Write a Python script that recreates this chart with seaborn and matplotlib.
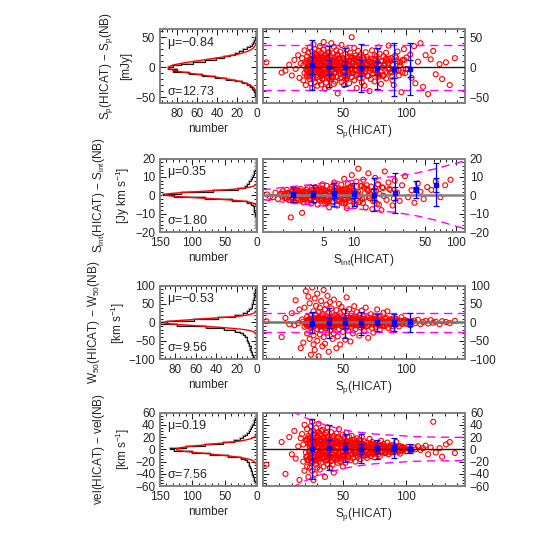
import numpy as np
import pandas as pd
import seaborn as sns
import matplotlib
matplotlib.use("Agg")
from matplotlib import pyplot as plt
from matplotlib.ticker import MultipleLocator, FixedLocator, LogLocator, NullFormatter, FormatStrFormatter

# ---------------- data ----------------
# peak flux of the matched sources (shared by rows 1, 3 and 4)
sp_hicat = [
    -10, 2, 5, 8, 10, 12, 13, 15, 16, 17,
    18, 19, 19, 20, 20, 21, 21, 22, 22, 22,
    23, 23, 23, 24, 24, 24, 24, 25, 25, 25,
    25, 26, 26, 26, 26, 26, 27, 27, 27, 27,
    27, 28, 28, 28, 28, 28, 29, 29, 29, 29,
    30, 30, 30, 30, 30, 31, 31, 31, 31, 31,
    32, 32, 32, 32, 33, 33, 33, 33, 33, 34,
    34, 34, 34, 35, 35, 35, 35, 36, 36, 36,
    36, 37, 37, 37, 37, 38, 38, 38, 38, 39,
    39, 39, 39, 40, 40, 40, 40, 41, 41, 41,
    41, 42, 42, 42, 43, 43, 43, 43, 44, 44,
    44, 45, 45, 45, 45, 46, 46, 46, 47, 47,
    47, 48, 48, 48, 49, 49, 49, 50, 50, 50,
    51, 51, 51, 52, 52, 52, 53, 53, 53, 54,
    54, 54, 55, 55, 55, 56, 56, 57, 57, 57,
    58, 58, 59, 59, 59, 60, 60, 61, 61, 61,
    62, 62, 63, 63, 64, 64, 64, 65, 65, 66,
    66, 67, 67, 68, 68, 69, 69, 70, 70, 71,
    71, 72, 72, 73, 73, 74, 74, 75, 75, 76,
    76, 77, 78, 78, 79, 79, 80, 80, 81, 82,
    82, 83, 84, 84, 85, 86, 86, 87, 88, 89,
    89, 90, 91, 92, 93, 94, 95, 96, 97, 98,
    99, 100, 101, 103, 104, 106, 107, 109, 111, 113,
    115, 117, 119, 121, 123, 126, 128, 131, 134, 138,
    # dense core of the cloud
    21.3, 22.8, 23.6, 24.9, 25.4, 26.7, 27.3, 28.6, 29.1, 30.4,
    31.7, 32.5, 33.8, 34.2, 35.6, 36.3, 37.9, 38.1, 39.5, 40.6,
    22.1, 23.9, 24.4, 26.2, 27.8, 29.7, 30.9, 32.3, 33.1, 35.0,
    36.8, 38.7, 40.2, 41.5, 42.9, 43.6, 44.8, 45.7, 46.4, 47.9,
    21.8, 25.1, 28.2, 31.1, 34.7, 37.4, 39.9, 42.3, 45.1, 48.6,
    49.5, 50.7, 51.9, 52.6, 53.8, 54.3, 55.9, 56.4, 57.7, 58.5,
    24.1, 27.5, 30.2, 33.6, 36.1, 39.2, 41.9, 44.2, 47.3, 50.1,
    59.8, 60.5, 61.7, 62.9, 63.4, 64.8, 65.3, 66.6, 67.9, 68.4,
    53.1, 55.2, 57.1, 59.4, 61.2, 63.9, 66.1, 69.3, 70.8, 71.6,
    72.9, 73.4, 74.7, 75.8, 76.5, 77.9, 78.4, 79.6, 80.9, 81.7,
    82.4, 83.8, 84.6, 85.9, 86.7, 87.5, 88.8, 89.4, 90.6, 91.8,
    26.9, 29.3, 32.8, 35.3, 38.5, 41.2, 43.1, 46.9, 49.1, 52.2,
    54.7, 56.9, 58.9, 62.1, 64.2, 67.2, 69.8, 72.3, 75.1, 78.9,
    92.7, 93.9, 95.2, 96.8, 98.3, 99.6, 83.1, 86.2, 88.1, 94.6,
    23.3, 28.9, 34.1, 40.9, 47.6, 51.4, 60.1, 65.8, 71.1, 77.2,
]
d_sp = [
    8, -9, -6, 4, -14, 12, -3, 20, -18, 6,
    15, -22, 3, 28, -10, 7, -30, 18, -5, 11,
    -16, 24, 1, -8, 33, -20, 9, -2, 14, -27,
    5, -12, 19, -35, 2, 26, -7, 12, -19, 38,
    -4, 10, -25, 16, -1, 30, -14, 6, 22, -9,
    13, -31, 4, 21, -17, 9, -3, 27, -11, 0,
    18, -6, 35, -23, 7, -15, 24, 2, -29, 11,
    -8, 16, -20, 5, 29, -13, 42, -2, 9, -36,
    3, 20, -10, 14, -26, 7, 31, -5, 17, -18,
    25, -1, -33, 12, 6, -21, 19, -7, 40, -12,
    8, -15, 23, -4, 13, -28, 2, 34, -9, 17,
    -24, 10, -3, 28, -16, 5, -44, 21, -6, 14,
    1, -19, 26, -11, 9, 37, -25, 4, -2, 15,
    -30, 12, 7, -14, 22, -8, 3, -20, 30, -5,
    18, -12, 10, -27, 5, 24, -3, 15, -17, 50,
    -9, 6, -22, 13, 32, -6, 19, -14, 2, -35,
    11, 27, -4, -18, 8, 21, -10, 3, -26, 16,
    -2, 12, -31, 25, -7, 6, 17, -15, 4, -40,
    9, -20, 14, 1, 28, -11, -5, 20, -24, 7,
    13, -8, 33, -16, 3, 22, -28, 10, -1, 18,
    -13, 6, 24, -19, 11, -4, 36, -9, 15, -22,
    4, -30, 19, -6, 26, -14, 8, -42, 12, 30,
    -10, 16, -3, 21, -18, 35, -27, 9, 40, -33,
    20, -45, 13, 27, -12, 5, -20, 8, -30, 15,
    -3, 7, -11, 14, 2, -16, 9, -6, 18, -1,
    11, -8, 4, -19, 13, -4, 6, 16, -12, 1,
    -7, 12, -15, 3, 9, -2, 17, -10, 5, -13,
    15, -5, 8, -18, 0, 10, -9, 19, -3, 6,
    -14, 4, 12, -6, 16, -11, 2, -17, 7, -1,
    13, -8, 3, 11, -15, 5, -4, 18, -10, 9,
    -12, 1, 15, -7, 6, -16, 10, -2, 14, -9,
    4, -13, 8, 17, -5, 2, -11, 12, -3, 7,
    -18, 11, -6, 3, 15, -8, 1, -14, 9, -2,
    6, -10, 13, -4, 18, -12, 5, -7, 10, -15,
    2, 14, -9, 7, -3, 11, -16, 4, -6, 16,
    -1, 8, -13, 19, -5, 12, -10, 3, -17, 6,
    9, -4, 15, -11, 1, -8, 13, -2, 7, -14,
    10, -6, 3, -9, 12, -3, 5, 14, -7, 2,
    -2, 9, -12, 5, 15, -6, 11, -16, 1, 8,
]
d_w50 = [
    3, -40, 12, -5, 25, -8, 60, -2, 35, -70,
    8, -55, 2, 40, -12, 85, -4, -30, 15, 6,
    -9, 70, 3, -45, 10, -3, 52, -88, 5, -15,
    18, -6, 95, 1, -25, 7, -60, 30, -2, 12,
    -35, 4, 65, -10, 2, -75, 20, -4, 45, 9,
    -18, 3, -50, 78, -7, 11, -2, 28, -92, 6,
    40, -11, 5, -33, 14, -1, 58, -20, 8, -65,
    2, 22, -8, 88, -40, 6, -3, 35, -15, 10,
    -58, 4, 48, -6, 17, -28, 1, 72, -12, 7,
    26, -5, -80, 13, 3, 55, -22, 9, -2, 38,
    -9, 16, -45, 4, 62, -14, 6, -30, 20, -3,
    11, -70, 2, 33, -8, 15, -38, 5, 50, -4,
    -18, 8, 25, -60, 3, -10, 42, 1, -26, 14,
    6, -3, 30, -47, 10, -7, 18, 68, -15, 2,
    -22, 12, -4, 36, 5, -52, 9, -1, 24, -12,
    7, -30, 15, -5, 44, 3, -18, 11, -2, 28,
    -8, 4, -36, 20, 1, 12, -14, 32, -6, 9,
    16, -3, -24, 7, 40, -10, 5, -42, 14, 2,
    -6, 22, 3, -15, 10, -28, 4, 18, -2, 8,
    -12, 35, 5, -4, 14, -20, 1, 9, -8, 26,
    3, -10, 12, -5, 30, 2, -16, 7, -3, 10,
    -18, 4, 8, -6, 2, -11, 5, 14, -3, 1,
    6, -4, 3, -8, 2, 5, -2, 7, -5, 1,
    4, -3, 6, -1, 2, -5, 3, 1, -2, 4,
    -2, 5, -7, 9, 1, -10, 6, -4, 11, 0,
    7, -5, 3, -12, 8, -3, 4, 10, -8, 1,
    -4, 8, -9, 2, 6, -1, 12, -6, 3, -8,
    10, -3, 5, -11, 0, 6, -6, 13, -2, 4,
    -9, 3, 8, -4, 10, -7, 1, -11, 5, -1,
    8, -5, 2, 7, -10, 3, -2, 12, -6, 6,
    -8, 1, 10, -5, 4, -10, 7, -1, 9, -6,
    3, -8, 5, 11, -3, 2, -7, 8, -2, 5,
    -11, 7, -4, 2, 9, -5, 1, -9, 6, -1,
    4, -6, 8, -3, 11, -7, 3, -4, 6, -9,
    1, 9, -6, 4, -2, 7, -10, 3, -4, 10,
    -1, 5, -8, 12, -3, 8, -6, 2, -11, 4,
    6, -3, 10, -7, 1, -5, 8, -1, 5, -9,
    3, -2, 2, -4, 5, -1, 2, 6, -3, 1,
    -1, 6, -8, 3, 9, -4, 7, -10, 1, 5,
]
d_vel = [
    -25, 12, -40, 20, -8, 30, -15, 5, -50, 18,
    25, -20, 8, -35, 40, -5, 15, -28, 33, -12,
    10, -45, 22, -3, 18, -30, 5, 38, -15, 28,
    -8, 15, -22, 45, -35, 3, 24, -12, 30, -50,
    12, -18, 7, 26, -40, 19, -2, 35, -25, 8,
    -10, 22, -30, 14, 4, -16, 28, -6, 42, -20,
    17, -8, 25, -33, 2, 13, -22, 30, -4, 10,
    -15, 6, 32, -12, 20, -28, 9, -3, 24, -45,
    14, -18, 3, 27, -9, 18, -24, 8, 36, -6,
    -13, 21, -2, 12, -30, 5, 16, -19, 28, -7,
    9, -25, 18, 1, -14, 22, -38, 6, 11, -10,
    15, -5, 26, -17, 3, -22, 12, 20, -8, 33,
    -12, 6, -20, 17, 2, 10, -15, 24, -4, -28,
    8, 18, -10, 3, -22, 13, 27, -6, 12, -16,
    5, -12, 20, -3, 9, -18, 14, 1, -8, 22,
    -14, 7, 16, -5, 11, -20, 3, 13, -9, 18,
    4, -12, 9, 15, -7, 2, -16, 10, 21, -4,
    8, -10, 13, -2, 6, -14, 11, 3, -8, 17,
    -5, 9, -11, 4, 12, -7, 2, -13, 8, 5,
    -3, 10, -8, 6, 1, -11, 7, 14, -4, 3,
    9, -6, 4, -2, 11, -8, 5, 1, -5, 7,
    3, -4, 6, 12, -2, 5, -7, 2, 4, -1,
    2, -3, 4, 1, -2, 3, 0, 5, -1, 2,
    6, -8, 3, 45, -5, 2, -12, 8, 12, -6,
    -12, 18, -5, 9, -20, 14, 2, -16, 11, -7,
    15, -9, 4, 19, -13, 6, -18, 10, -3, 13,
    -17, 8, 20, -6, 12, -14, 3, 16, -10, 5,
    -8, 14, -12, 6, 10, -15, 2, 12, -6, 9,
    16, -19, 7, -11, 18, -4, 13, -9, 11, -13,
    5, -10, 12, -3, 8, -12, 4, 10, -7, 2,
    -14, 11, 19, -8, 5, -16, 13, -2, 9, -11,
    7, -5, 10, -8, 3, 9, -6, 2, -10, 6,
    -9, 4, 11, -6, 8, -3, 7, -9, 5, 1,
    -4, 8, -7, 3, 6, -5, 2, 7, -3, 4,
    5, -6, 3, -2, 6, -4, 1, 4, -5, 2,
    12, -15, 8, 17, -10, 4, -13, 9, 14, -6,
    10, -8, 3, 9, -7, 5, -9, 7, -4, 6,
    3, -4, 5, -2, 2, -3, -5, 4, 1, -2,
    -18, 9, -13, 11, -7, 8, -6, 7, -5, 3,
]

# integrated flux (row 2)
sint_hicat = [
    1.4, 1.6, 1.7, 1.8, 1.9, 2.0, 2.0, 2.1, 2.2, 2.2,
    2.3, 2.3, 2.4, 2.4, 2.5, 2.5, 2.6, 2.6, 2.7, 2.7,
    2.8, 2.8, 2.9, 3.0, 3.0, 3.1, 3.1, 3.2, 3.3, 3.3,
    3.4, 3.5, 3.5, 3.6, 3.7, 3.8, 3.8, 3.9, 4.0, 4.0,
    4.1, 4.2, 4.3, 4.4, 4.5, 4.5, 4.6, 4.7, 4.8, 4.9,
    5.0, 5.1, 5.2, 5.3, 5.4, 5.5, 5.6, 5.7, 5.8, 5.9,
    6.0, 6.1, 6.2, 6.4, 6.5, 6.6, 6.8, 6.9, 7.0, 7.2,
    7.3, 7.5, 7.6, 7.8, 8.0, 8.1, 8.3, 8.5, 8.7, 8.9,
    9.1, 9.3, 9.5, 9.8, 10.0, 10.2, 10.5, 10.8, 11.0, 11.3,
    11.6, 12.0, 12.3, 12.7, 13.0, 13.4, 13.8, 14.2, 14.7, 15.1,
    15.6, 16.1, 16.7, 17.2, 17.8, 18.5, 19.2, 20.0, 20.8, 21.7,
    22.6, 23.8, 25.0, 26.3, 27.9, 29.5, 31.5, 33.8, 36.5, 39.0,
    42.0, 44.5, 48.0, 52.0, 57.0, 63.0, 70.0, 78.0, 88.0, 1.5,
    2.1, 2.6, 3.2, 3.6, 4.2, 4.8, 5.3, 6.3, 7.1, 8.2,
    9.0, 10.6, 12.5, 14.0, 2.9, 3.4, 4.4, 5.6, 6.7, 7.9,
    2.15, 2.45, 2.62, 2.83, 3.05, 3.22, 3.41, 3.63, 3.84, 4.07,
    4.26, 4.52, 4.71, 4.93, 5.18, 5.46, 5.72, 6.08, 6.43, 6.77,
    7.14, 7.58, 7.96, 8.43, 8.81, 9.36, 9.87, 10.4, 11.2, 11.9,
    2.24, 2.51, 2.88, 3.12, 3.47, 3.71, 4.02, 4.38, 4.81, 5.07,
    5.36, 5.84, 6.21, 6.62, 7.03, 7.41, 7.83, 8.26, 8.64, 9.18,
    9.62, 10.1, 10.9, 12.6, 13.3, 14.4, 15.4, 16.4, 17.5, 18.8,
    1.95, 2.28, 2.69, 3.26, 3.78, 4.31, 4.88, 5.58, 6.31, 7.27,
    8.05, 8.97, 10.7, 12.2, 13.7, 15.9, 17.0, 19.5, 22.1, 24.5,
]
d_sint = [
    0.5, -1.0, 1.5, -2.0, 0.8, 2.2, -0.5, 1.0, -1.8, 3.0,
    -2.5, 1.2, 0.2, -12.0, 2.5, -1.2, 0.6, -3.2, 1.8, -0.3,
    2.8, -1.5, 0.4, -2.8, 3.5, 1.0, -9.5, -0.8, 2.0, -2.2,
    1.4, -3.5, 4.0, 0.0, -1.8, 2.6, -4.5, 1.1, 3.2, -0.9,
    -2.6, 4.5, 0.8, -5.0, 2.0, -0.4, 3.8, -3.0, 1.5, 6.0,
    -1.2, 2.8, -4.2, 0.6, 5.2, -2.0, 1.9, -6.5, 3.4, -0.2,
    4.6, -3.4, 1.0, 7.0, -1.6, 2.4, -5.5, 0.3, 3.8, -2.8,
    1.6, 5.8, -4.0, 0.5, 9.0, -2.4, 3.0, -7.0, 6.2, 0.9,
    -3.2, 4.4, 11.0, -1.0, 2.2, -5.8, 7.5, 0.4, 14.5, -3.6,
    5.0, -2.0, 8.5, 1.2, -6.5, 3.6, 12.0, -1.5, 4.8, -7.5,
    2.5, 9.5, -4.5, 6.0, 0.8, -8.0, 4.0, 13.0, -2.5, 7.0,
    3.0, -5.5, 8.0, 1.5, -3.0, 5.5, 10.5, -1.0, 2.8, -4.0,
    6.5, 2.0, -2.0, 4.5, 3.0, 7.5, -1.0, 5.5, 8.5, -0.8,
    -1.5, 2.0, -3.8, 1.8, -0.6, 2.4, -2.6, 1.2, -1.0, 3.4,
    0.2, -2.8, 4.2, -0.4, 1.4, -1.2, 0.6, -3.0, 2.2, -0.2,
    -1.2, 1.8, 0.4, -2.6, 2.2, -0.6, 3.0, -1.9, 1.1, -3.1,
    2.7, -0.2, -2.2, 3.6, 0.9, -3.8, 1.5, -1.0, 4.2, -2.9,
    0.7, 3.2, -4.4, 1.9, -1.4, 4.8, -3.3, 2.1, -0.5, 5.2,
    1.3, -2.0, 2.5, -0.9, 1.7, -2.7, 0.3, 3.4, -1.6, 2.3,
    -3.5, 1.0, -0.4, 4.0, -2.4, 0.8, 2.9, -3.9, 1.4, -0.7,
    3.7, -4.6, 2.0, -1.3, 5.5, 0.6, -3.2, 2.6, -5.0, 4.4,
    0.9, -0.8, 2.1, -1.7, 0.2, 3.1, -2.3, 1.6, -3.6, 2.8,
    -1.1, 4.3, 0.5, -4.1, 2.4, -2.8, 6.0, -0.3, 3.5, -1.8,
]

# histograms of the differences (counts per bin, bottom to top)
hist_sp = [0, 1, 1, 1, 2, 2, 3, 4, 5, 7, 10, 15, 22, 31, 42, 55, 68, 84, 80, 89,
           84, 76, 64, 52, 41, 33, 27, 22, 18, 14, 10, 7, 5, 4, 3, 2, 2, 1, 1, 0]
hist_sint = [0, 0, 1, 0, 1, 1, 1, 2, 2, 3, 3, 4, 4, 5, 6, 9, 16, 38, 80, 128,
             146, 118, 68, 30, 18, 15, 13, 12, 10, 8, 6, 5, 4, 3, 2, 2, 1, 1, 0, 1]
hist_w50 = [3, 4, 5, 5, 6, 7, 6, 8, 8, 9, 10, 10, 12, 14, 17, 22, 32, 50, 78, 95,
            88, 62, 38, 22, 14, 10, 8, 6, 5, 5, 4, 4, 3, 3, 2, 3, 2, 2, 1, 1]
hist_vel = [1, 2, 3, 4, 5, 6, 7, 8, 9, 10, 11, 12, 13, 15, 18, 25, 45, 72, 100, 128,
            135, 110, 80, 52, 35, 27, 22, 18, 15, 13, 11, 9, 8, 6, 5, 4, 3, 2, 1, 1]

# gaussian fit values
mu_vals = [-0.84, 0.35, -0.53, 0.19]
sigma_vals = [12.73, 1.80, 9.56, 7.56]
peak_vals = [88, 142, 90, 124]

# binned means and error bars (outer and inner)
bin_sp = [26, 39, 52, 64.5, 77, 90, 103]
bin_sint = [2.5, 4.0, 6.3, 10.0, 15.8, 25.0, 40.0, 63.0]
mean_sp = [3.4, 0.7, 0.0, -1.7, -2.2, -3.9, -2.7]
outer_sp = [42.4, 34.3, 32.0, 40.0, 34.5, 44.0, 43.6]
inner_sp = [14.1, 11.4, 10.7, 13.3, 11.5, 14.7, 14.5]
mean_sint = [0.5, 0.9, 0.5, 0.5, 0.4, 1.2, 3.2, 5.8]
outer_sint = [4.2, 4.7, 6.1, 6.3, 9.0, 10.8, 4.8, 11.8]
inner_sint = [1.4, 1.6, 2.0, 2.1, 3.0, 3.6, 1.6, 3.9]
mean_w50 = [-1, -2, -2, -2, 0, -1, 0]
outer_w50 = [28.5, 40.5, 39.5, 31.5, 22.5, 23.5, 26.5]
inner_w50 = [9.5, 13.5, 13.2, 10.5, 7.5, 7.8, 8.8]
mean_vel = [0.3, 3.0, 2.0, 1.0, 0.0, 2.0, 1.0]
outer_vel = [48.7, 36.0, 23.4, 24.0, 15.8, 16.5, 7.4]
inner_vel = [16.2, 12.0, 7.8, 8.0, 5.3, 5.5, 2.5]

# 3-sigma limits
lim_x_lin = [-13, 146]
lim_sp_up = [37.3, 37.3]
lim_sp_lo = [-39.0, -39.0]
lim_w50_up = [25.0, 25.0]
lim_w50_lo = [-25.5, -25.5]
lim_sint_x = [1.27, 2, 4, 6.3, 10, 16, 25, 40, 63, 100, 125]
lim_sint_up = [3.0, 4.3, 6.0, 7.2, 8.2, 9.2, 10.3, 12.0, 14.5, 17.5, 19.0]
lim_sint_lo = [-2.3, -3.6, -5.3, -6.3, -7.3, -8.2, -9.2, -11.0, -13.5, -16.8, -18.3]
lim_vel_x = [10, 20, 30, 40, 50, 60, 75, 90, 105, 120, 146]
lim_vel_up = [62, 52, 44, 37.5, 32, 28.5, 25, 23, 21, 20, 19.5]
lim_vel_lo = [-62, -52, -43, -37, -31.5, -27.5, -23.5, -21.5, -19.5, -18.8, -18.4]

ylabels = [r"S$_p$(HICAT) $-$ S$_p$(NB)" + "\n" + "[mJy]",
           r"S$_{int}$(HICAT) $-$ S$_{int}$(NB)" + "\n" + r"[Jy km s$^{-1}$]",
           r"W$_{50}$(HICAT) $-$ W$_{50}$(NB)" + "\n" + r"[km s$^{-1}$]",
           r"vel(HICAT) $-$ vel(NB)" + "\n" + r"[km s$^{-1}$]"]
ylabel_x = [-0.29, -0.29, -0.34, -0.29]
xlabels = [r"S$_p$(HICAT)", r"S$_{int}$(HICAT)", r"S$_p$(HICAT)", r"S$_p$(HICAT)"]

# ---------------- style ----------------
sns.set_theme(style="white")
plt.rcParams["font.family"] = ["Liberation Sans", "DejaVu Sans"]
plt.rcParams["mathtext.default"] = "regular"
plt.rcParams["font.size"] = 8.5
plt.rcParams["axes.labelsize"] = 8.5
plt.rcParams["xtick.labelsize"] = 8.5
plt.rcParams["ytick.labelsize"] = 8.5
plt.rcParams["axes.unicode_minus"] = True

rows = [
    dict(x=sp_hicat, y=d_sp, hist=hist_sp, ylim=(-60, 63), lo=-60, hi=60,
         hxlim=(97, 0), hxmaj=20, hxmin=5, ymaj=50, ymin=10, log=False,
         bx=bin_sp, bm=mean_sp, bo=outer_sp, bi=inner_sp,
         lx=lim_x_lin, lu=lim_sp_up, ll=lim_sp_lo, zc="k"),
    dict(x=sint_hicat, y=d_sint, hist=hist_sint, ylim=(-20, 20), lo=-20, hi=20,
         hxlim=(150, 0), hxmaj=50, hxmin=10, ymaj=10, ymin=2, log=True,
         bx=bin_sint, bm=mean_sint, bo=outer_sint, bi=inner_sint,
         lx=lim_sint_x, lu=lim_sint_up, ll=lim_sint_lo, zc="0.5"),
    dict(x=sp_hicat, y=d_w50, hist=hist_w50, ylim=(-100, 100), lo=-100, hi=100,
         hxlim=(95, 0), hxmaj=20, hxmin=5, ymaj=50, ymin=10, log=False,
         bx=bin_sp, bm=mean_w50, bo=outer_w50, bi=inner_w50,
         lx=lim_x_lin, lu=lim_w50_up, ll=lim_w50_lo, zc="0.45"),
    dict(x=sp_hicat, y=d_vel, hist=hist_vel, ylim=(-60, 60), lo=-60, hi=60,
         hxlim=(150, 0), hxmaj=50, hxmin=10, ymaj=20, ymin=5, log=False,
         bx=bin_sp, bm=mean_vel, bo=outer_vel, bi=inner_vel,
         lx=lim_vel_x, lu=lim_vel_up, ll=lim_vel_lo, zc="k"),
]

fig = plt.figure(figsize=(5.45, 5.45), dpi=100)
bottoms = [0.811, 0.574, 0.341, 0.108]
h = 0.135


def style_axes(ax):
    for sp in ax.spines.values():
        sp.set_color("0.5")
        sp.set_linewidth(1.4)
    ax.tick_params(which="both", direction="in", top=True, bottom=True,
                   left=True, right=True, color="k", width=0.7)
    ax.tick_params(which="major", length=4)
    ax.tick_params(which="minor", length=2)


def signed(v):
    return ("%.2f" % v).replace("-", "\u2212")


for i, r in enumerate(rows):
    axh = fig.add_axes([0.2936, bottoms[i], 0.178, h])
    axs = fig.add_axes([0.4817, bottoms[i], 0.3716, h])

    # ---- histogram panel ----
    counts = r["hist"]
    edges = list(np.linspace(r["lo"], r["hi"], len(counts) + 1))
    centers = [0.5 * (a + b) for a, b in zip(edges[:-1], edges[1:])]
    hdf = pd.DataFrame({"diff": centers, "count": counts})
    sns.histplot(data=hdf, y="diff", weights="count", bins=edges, element="step",
                 fill=False, color="0.7", linewidth=1.6, ax=axh)
    sns.histplot(data=hdf, y="diff", weights="count", bins=edges, element="step",
                 fill=False, color="k", linewidth=0.8, ax=axh)
    yy = np.linspace(r["ylim"][0], r["ylim"][1], 500)
    gg = peak_vals[i] * np.exp(-0.5 * ((yy - mu_vals[i]) / sigma_vals[i]) ** 2)
    axh.plot(gg + 0.5, yy, color="red", lw=1.0)
    axh.set_xlim(*r["hxlim"])
    axh.set_ylim(*r["ylim"])
    axh.xaxis.set_major_locator(MultipleLocator(r["hxmaj"]))
    axh.xaxis.set_minor_locator(MultipleLocator(r["hxmin"]))
    axh.yaxis.set_major_locator(MultipleLocator(r["ymaj"]))
    axh.yaxis.set_minor_locator(MultipleLocator(r["ymin"]))
    style_axes(axh)
    axh.tick_params(labelleft=True, labelright=False)
    axh.set_xlabel("number", labelpad=2)
    axh.set_ylabel(ylabels[i], linespacing=1.5)
    axh.yaxis.set_label_coords(ylabel_x[i], 0.5)
    axh.text(0.07, 0.82, r"$\mu$=" + signed(mu_vals[i]), transform=axh.transAxes,
             ha="left", va="center", fontsize=9)
    axh.text(0.07, 0.16, r"$\sigma$=" + signed(sigma_vals[i]), transform=axh.transAxes,
             ha="left", va="center", fontsize=9)

    # ---- scatter panel ----
    if r["log"]:
        axs.set_xscale("log")
    sdf = pd.DataFrame({"x": r["x"], "d": r["y"]})
    sns.scatterplot(data=sdf, x="x", y="d", ax=axs, marker="o", s=13,
                    facecolors="none", edgecolor="red", linewidth=0.8, zorder=2)
    axs.axhline(0, color=r["zc"], lw=1.0 if r["zc"] == "k" else 1.8, zorder=3)
    lx = r["lx"]
    axs.plot(lx, r["lu"], color="magenta", ls=(0, (6, 4)), lw=1.0, zorder=4)
    axs.plot(lx, r["ll"], color="magenta", ls=(0, (6, 4)), lw=1.0, zorder=4)
    axs.errorbar(r["bx"], r["bm"], yerr=r["bo"], fmt="none", ecolor="blue",
                 elinewidth=0.9, capsize=2.5, capthick=0.9, zorder=5)
    axs.errorbar(r["bx"], r["bm"], yerr=r["bi"], fmt="s", color="blue", ms=3.5,
                 elinewidth=0.9, capsize=2.5, capthick=0.9, zorder=6)
    axs.set_ylim(*r["ylim"])
    if r["log"]:
        axs.set_xlim(1.27, 122)
        axs.xaxis.set_major_locator(FixedLocator([5, 10, 50, 100]))
        axs.xaxis.set_major_formatter(FormatStrFormatter("%d"))
        axs.xaxis.set_minor_locator(LogLocator(base=10, subs=np.arange(2, 10)))
        axs.xaxis.set_minor_formatter(NullFormatter())
    else:
        axs.set_xlim(*lim_x_lin)
        axs.xaxis.set_major_locator(FixedLocator([50, 100]))
        axs.xaxis.set_minor_locator(MultipleLocator(10))
    axs.yaxis.set_major_locator(MultipleLocator(r["ymaj"]))
    axs.yaxis.set_minor_locator(MultipleLocator(r["ymin"]))
    style_axes(axs)
    axs.tick_params(labelleft=False, labelright=True)
    axs.set_xlabel(xlabels[i], labelpad=2)
    axs.set_ylabel("")

fig.savefig("out.png", dpi=100)
